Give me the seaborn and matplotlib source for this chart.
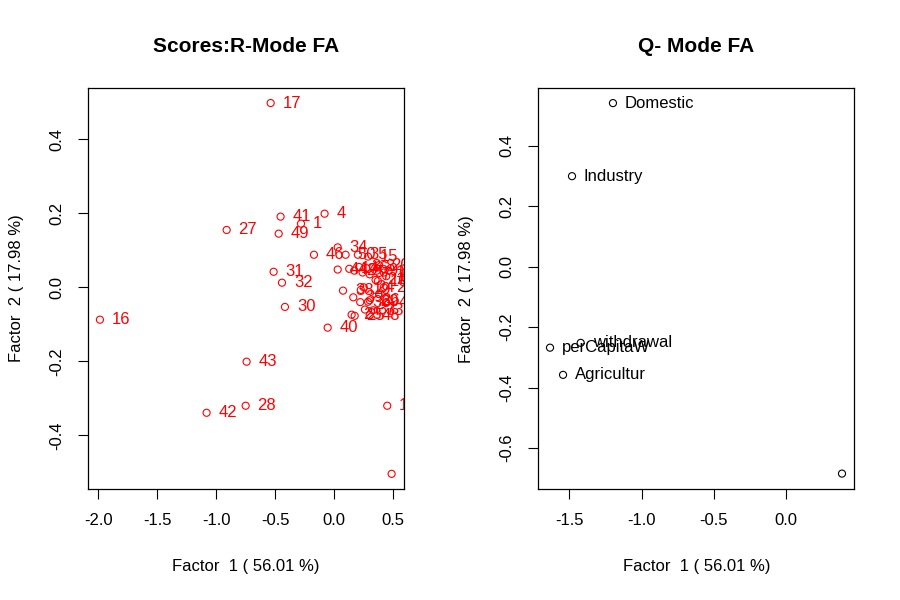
import matplotlib
matplotlib.use("Agg")
import matplotlib.pyplot as plt
import seaborn as sns
import pandas as pd

sns.set_style("white")
plt.rcParams['font.family'] = ['Liberation Sans', 'DejaVu Sans']
plt.rcParams['text.color'] = 'black'
plt.rcParams['axes.labelcolor'] = 'black'

# ---- R-mode scores (left panel) ----
r_labels = ["17", "41", "1", "4", "27", "49", "46", "31", "32", "30", "16", "40", "43", "28", "42",
            "34", "50", "35", "15", "44", "14", "38", "39", "23", "25",
            "2", "3", "5", "6", "7", "8", "9", "10", "12", "13", "18", "20", "21", "19", "22",
            "24", "26", "29", "33", "36", "37", "45", "48", "11", "47"]
r_f1 = [-0.539, -0.455, -0.282, -0.082, -0.912, -0.471, -0.172, -0.514, -0.443, -0.418, -1.986, -0.056,
        -0.743, -0.751, -1.082,
        0.029, 0.096, 0.200, 0.286, 0.029, 0.127, 0.074, 0.161, 0.147, 0.173,
        0.170, 0.210, 0.240, 0.270, 0.300, 0.330, 0.360, 0.370, 0.420, 0.440, 0.460, 0.380, 0.350,
        0.225, 0.420, 0.250, 0.300, 0.286, 0.330, 0.220, 0.260, 0.440, 0.300, 0.449, 0.486]
r_f2 = [0.498, 0.191, 0.172, 0.199, 0.155, 0.145, 0.088, 0.042, 0.0125, -0.053, -0.0875, -0.109,
        -0.201, -0.320, -0.339,
        0.108, 0.088, 0.088, 0.083, 0.048, 0.050, -0.009, -0.027, -0.074, -0.077,
        0.045, 0.055, 0.040, 0.052, 0.035, 0.055, 0.045, 0.017, 0.040, 0.030, 0.045, 0.060, 0.020,
        -0.007, 0.000, 0.000, -0.035, -0.039, -0.062, -0.040, -0.060, -0.040, -0.075, -0.320, -0.504]

# ---- Q-mode (right panel) ----
q_labels = ["Domestic", "Industry", "withdrawal", "perCapitaW", "Agricultur", ""]
q_f1 = [-1.198, -1.481, -1.421, -1.633, -1.543, 0.385]
q_f2 = [0.542, 0.300, -0.252, -0.268, -0.358, -0.685]

x_ticks_r = [-2.0, -1.5, -1.0, -0.5, 0.0, 0.5]
y_ticks_r = [-0.4, -0.2, 0.0, 0.2, 0.4]
x_ticks_q = [-1.5, -1.0, -0.5, 0.0]
y_ticks_q = [-0.6, -0.4, -0.2, 0.0, 0.2, 0.4]

xlab = "Factor  1 ( 56.01 %)"
ylab = "Factor  2 ( 17.98 %)"

df_r = pd.DataFrame({"f1": r_f1, "f2": r_f2, "lab": r_labels})
df_q = pd.DataFrame({"f1": q_f1, "f2": q_f2, "lab": q_labels})

W, H = 900, 600
fig = plt.figure(figsize=(9, 6), dpi=100)
ax1 = fig.add_axes([88 / W, 1 - 489 / H, 316 / W, 401 / H])
ax2 = fig.add_axes([538.3 / W, 1 - 489.3 / H, 316 / W, 401 / H])


def draw(ax, df, col, xt, yt, xlim, ylim, title):
    sns.scatterplot(data=df, x="f1", y="f2", ax=ax, marker="o", s=26,
                    facecolors="none", edgecolor=col, linewidth=0.8, legend=False)
    for _, row in df.iterrows():
        if row["lab"]:
            ax.annotate(row["lab"], (row["f1"], row["f2"]), xytext=(8.6, 0),
                        textcoords="offset points", ha="left", va="center",
                        color=col, fontsize=12, clip_on=True)
    ax.set_xlim(*xlim)
    ax.set_ylim(*ylim)
    ax.set_xticks(xt)
    ax.set_yticks(yt)
    ax.set_xticklabels([f"{v:.1f}" for v in xt])
    ax.set_yticklabels([f"{v:.1f}" for v in yt], rotation=90, va="center")
    ax.tick_params(axis="both", direction="out", length=7, width=0.8,
                   pad=10, labelsize=12, colors="black", bottom=True, left=True)
    for s in ax.spines.values():
        s.set_color("black")
        s.set_linewidth(0.9)
    ax.set_xlabel("")
    ax.set_ylabel("")
    pos = ax.get_position()
    cx = (pos.x0 + pos.x1) / 2
    cy = (pos.y0 + pos.y1) / 2
    fig.text(cx, 1 - 46 / H, title, ha="center", va="center",
             fontsize=15, fontweight="bold", color="black")
    fig.text(cx, 1 - 566 / H, xlab, ha="center", va="center", fontsize=12, color="black")
    fig.text(pos.x0 - 72 / W, cy, ylab, ha="center", va="center",
             rotation=90, fontsize=12, color="black")


draw(ax1, df_r, "red", x_ticks_r, y_ticks_r, (-2.087, 0.591), (-0.545, 0.5386),
     "Scores:R-Mode FA")
draw(ax2, df_q, "black", x_ticks_q, y_ticks_q, (-1.714, 0.470), (-0.737, 0.591),
     "Q- Mode FA")

fig.savefig("out.png", dpi=100, facecolor="white")
